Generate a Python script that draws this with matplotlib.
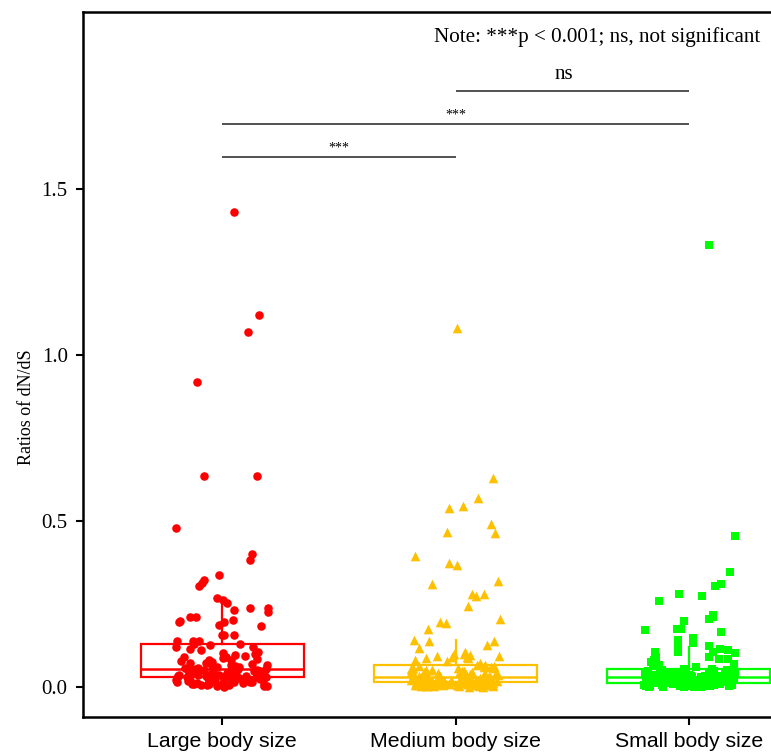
import numpy as np
import matplotlib
matplotlib.use("Agg")
import matplotlib.pyplot as plt

categories = ["Large body size", "Medium body size", "Small body size"]
colors = ["#FF0000", "#FFC000", "#00FF00"]
markers = ["o", "^", "s"]

large = [1.43, 1.12, 1.07, 0.92, 0.635, 0.635, 0.48, 0.40, 0.383, 0.337, 0.322, 0.313, 0.304,
         0.268, 0.262, 0.253, 0.238, 0.238, 0.232, 0.226, 0.211, 0.211, 0.202, 0.199, 0.196,
         0.196, 0.187, 0.184, 0.157, 0.157, 0.157, 0.139, 0.139, 0.139, 0.13, 0.13,
         0.125, 0.12, 0.12, 0.115, 0.11, 0.105, 0.102, 0.099, 0.096, 0.092, 0.09, 0.09, 0.087,
         0.084, 0.081, 0.081, 0.078, 0.075, 0.072, 0.072, 0.07, 0.068, 0.066, 0.065, 0.063,
         0.062, 0.06, 0.06, 0.059, 0.058, 0.057, 0.056, 0.055, 0.054,
         0.053, 0.052, 0.051, 0.05, 0.05, 0.049, 0.048, 0.047, 0.046, 0.045, 0.045, 0.044,
         0.043, 0.042, 0.041, 0.04, 0.04, 0.039, 0.038, 0.037, 0.036, 0.036, 0.035, 0.034,
         0.034, 0.033, 0.033, 0.032, 0.032, 0.031, 0.031, 0.03, 0.03, 0.03,
         0.029, 0.028, 0.027, 0.026, 0.025, 0.025, 0.024, 0.023, 0.022, 0.021, 0.02, 0.02,
         0.019, 0.018, 0.017, 0.016, 0.015, 0.015, 0.014, 0.013, 0.012, 0.011, 0.01, 0.01,
         0.009, 0.008, 0.007, 0.006, 0.005, 0.005, 0.004, 0.003, 0.002, 0.001]

medium = [1.08, 0.63, 0.57, 0.545, 0.54, 0.49, 0.467, 0.464, 0.395, 0.373, 0.367, 0.319, 0.31,
          0.28, 0.28, 0.274, 0.244, 0.205, 0.196, 0.193, 0.175, 0.142, 0.139, 0.139, 0.127,
          0.117, 0.105, 0.099, 0.099, 0.096, 0.093, 0.093, 0.09, 0.09, 0.087, 0.087, 0.081,
          0.078, 0.072,
          0.066, 0.065, 0.064, 0.062, 0.061, 0.06, 0.058, 0.057, 0.056, 0.055, 0.054, 0.052,
          0.051, 0.05, 0.049, 0.048, 0.047, 0.046, 0.045, 0.044, 0.043, 0.042, 0.041, 0.04,
          0.039, 0.038, 0.037, 0.037, 0.036, 0.035, 0.035, 0.034, 0.033, 0.033, 0.032, 0.032,
          0.031, 0.031, 0.03,
          0.03, 0.029, 0.029, 0.028, 0.028, 0.027, 0.027, 0.026, 0.026, 0.025, 0.025, 0.024,
          0.024, 0.023, 0.023, 0.022, 0.022, 0.021, 0.021, 0.02, 0.02, 0.02, 0.019, 0.019,
          0.019, 0.018, 0.018, 0.018, 0.017, 0.017, 0.017, 0.016, 0.016, 0.016, 0.016, 0.015,
          0.015, 0.015, 0.015,
          0.014, 0.014, 0.014, 0.013, 0.013, 0.013, 0.012, 0.012, 0.012, 0.011, 0.011, 0.011,
          0.01, 0.01, 0.01, 0.009, 0.009, 0.009, 0.008, 0.008, 0.008, 0.007, 0.007, 0.007,
          0.006, 0.006, 0.006, 0.005, 0.005, 0.005, 0.004, 0.004, 0.004, 0.003, 0.003, 0.002,
          0.002, 0.001, 0.001]

small = [1.33, 0.455, 0.346, 0.31, 0.304, 0.28, 0.274, 0.259, 0.217, 0.211, 0.205, 0.199,
         0.175, 0.175, 0.172, 0.166, 0.148, 0.142, 0.133, 0.123, 0.12, 0.114, 0.11, 0.105,
         0.105, 0.105, 0.102, 0.09, 0.09, 0.084, 0.084, 0.081, 0.075, 0.07, 0.066, 0.066, 0.06,
         0.054, 0.053, 0.052, 0.051, 0.05, 0.049, 0.048, 0.047, 0.046, 0.045, 0.044, 0.044,
         0.043, 0.042, 0.041, 0.04, 0.04, 0.039, 0.038, 0.037, 0.037, 0.036, 0.036, 0.035,
         0.035, 0.034, 0.034, 0.033, 0.033, 0.032, 0.032, 0.031, 0.031, 0.031, 0.03, 0.03, 0.03,
         0.029, 0.029, 0.028, 0.028, 0.027, 0.027, 0.026, 0.026, 0.025, 0.025, 0.024, 0.024,
         0.023, 0.023, 0.022, 0.022, 0.021, 0.021, 0.02, 0.02, 0.019, 0.019, 0.018, 0.018,
         0.017, 0.017, 0.016, 0.016, 0.015, 0.015, 0.014, 0.014, 0.013, 0.013, 0.013, 0.012,
         0.012,
         0.012, 0.011, 0.011, 0.011, 0.01, 0.01, 0.01, 0.009, 0.009, 0.009, 0.008, 0.008,
         0.008, 0.007, 0.007, 0.007, 0.006, 0.006, 0.006, 0.005, 0.005, 0.005, 0.004, 0.004,
         0.004, 0.003, 0.003, 0.003, 0.002, 0.002, 0.002, 0.001, 0.001, 0.001, 0.001, 0.0, 0.0]

groups = [large, medium, small]

comparisons = [(1, 2, "***"), (1, 3, "***"), (2, 3, "ns")]
comparison_y = [1.596, 1.696, 1.795]
note_text = "Note: ***p < 0.001; ns, not significant"
y_ticks = [0.0, 0.5, 1.0, 1.5]

fig = plt.figure(figsize=(7.71, 7.55), dpi=100)
ax = fig.add_axes([83 / 771, 38 / 755, 745 / 771, 705 / 755])

positions = [1, 2, 3]
for pos, vals, col in zip(positions, groups, colors):
    ax.boxplot([vals], positions=[pos], widths=0.7, showfliers=False, patch_artist=True,
               boxprops=dict(facecolor="none", edgecolor=col, linewidth=1.6),
               medianprops=dict(color=col, linewidth=1.8),
               whiskerprops=dict(color=col, linewidth=1.6),
               capprops=dict(linewidth=0), zorder=2)

rng = np.random.default_rng(7)
sizes = [38, 48, 36]
for pos, vals, col, mk, s in zip(positions, groups, colors, markers, sizes):
    v = np.asarray(vals)
    jit = rng.uniform(-0.2, 0.2, size=len(v))
    ax.scatter(pos + jit, v, s=s, c=col, marker=mk, linewidths=0, zorder=3)

serif = ["Liberation Serif", "DejaVu Serif"]
for (a, b, lab), yy in zip(comparisons, comparison_y):
    ax.plot([a, b], [yy, yy], color="#333333", lw=1.2, zorder=4, solid_capstyle="butt")
    if lab == "ns":
        ax.text((a + b) / 2 - 0.035, yy + 0.02, lab, ha="center", va="bottom",
                fontsize=15, family=serif)
    else:
        ax.text((a + b) / 2, yy + 0.008, lab, ha="center", va="bottom",
                fontsize=10, family=serif)

ax.text(2.605, 1.958, note_text, ha="center", va="center", fontsize=15.2, family=serif)

ax.set_xlim(0.4034, 3.5966)
ax.set_ylim(-0.0904, 2.033)
ax.set_xticks(positions)
ax.set_xticklabels(categories, fontsize=15.3, family=["Liberation Sans", "DejaVu Sans"])
ax.set_yticks(y_ticks)
ax.set_yticklabels([f"{t:.1f}" for t in y_ticks], fontsize=15, family=serif)
ax.set_ylabel("Ratios of dN/dS", fontsize=13, family=serif)
ax.yaxis.set_label_coords(-0.0644, 0.44)
ax.tick_params(axis="y", direction="out", length=5, width=1.5, color="black", pad=6)
ax.tick_params(axis="x", direction="out", length=6, width=1.5, color="black", pad=5)
for sp in ax.spines.values():
    sp.set_linewidth(1.8)
    sp.set_color("black")

fig.savefig("out.png", dpi=100)
